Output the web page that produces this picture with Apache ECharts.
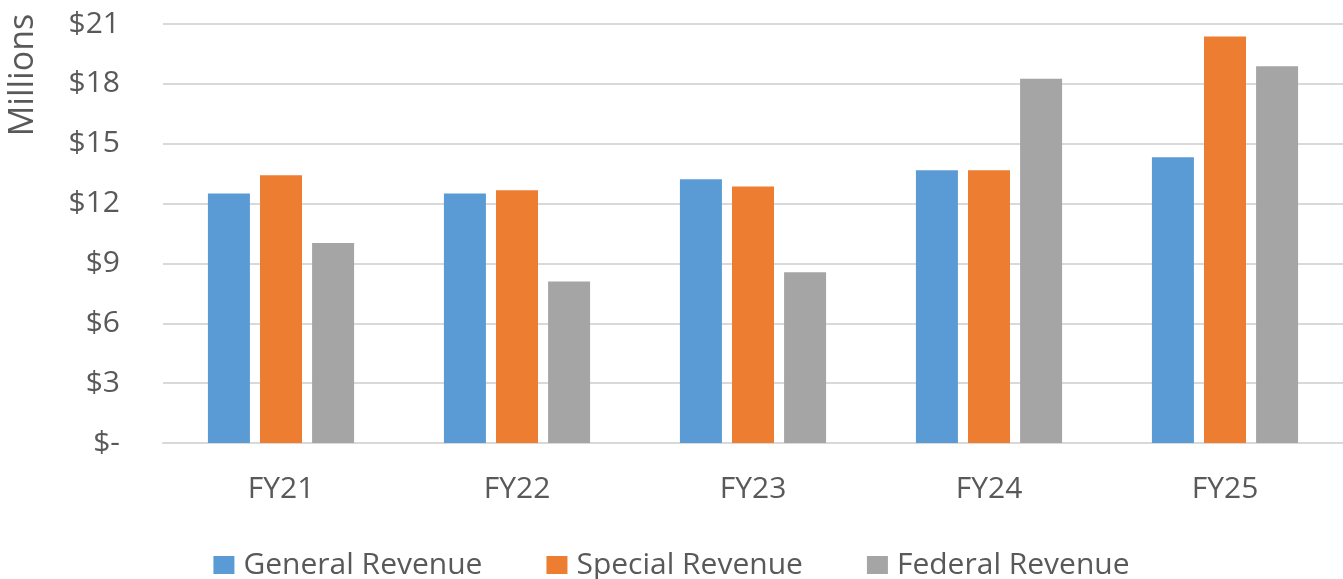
<!DOCTYPE html>
<html>
<head>
<meta charset="utf-8">
<script src="https://cdn.jsdelivr.net/npm/echarts@6/dist/echarts.min.js"></script>
<style>html,body{margin:0;padding:0;background:#fff}#c{width:1343px;height:579px}</style>
</head>
<body>
<div id="c"></div>
<script>
const categories = ['FY21', 'FY22', 'FY23', 'FY24', 'FY25'];
const generalRevenue = [12.5, 12.5, 13.22, 13.67, 14.32];
const specialRevenue = [13.42, 12.67, 12.85, 13.67, 20.37];
const federalRevenue = [10.03, 8.09, 8.56, 18.25, 18.88];
const yTicks = [0, 3, 6, 9, 12, 15, 18, 21];

const FONT = '"Open Sans", sans-serif';
const TXT = '#595959';
const chart = echarts.init(document.getElementById('c'));
chart.setOption({
  animation: false,
  grid: { left: 163, right: 0, top: 24, bottom: 136 },
  legend: {
    top: 545, left: 'center',
    itemWidth: 21, itemHeight: 18, itemGap: 64,
    icon: 'rect',
    textStyle: { fontFamily: FONT, fontSize: 30, color: TXT, padding: [0, 0, 0, 4] },
    data: ['General Revenue', 'Special Revenue', 'Federal Revenue']
  },
  xAxis: {
    type: 'category', data: categories,
    axisLine: { lineStyle: { color: '#d9d9d9', width: 2 } },
    axisTick: { show: false },
    axisLabel: { fontFamily: FONT, fontSize: 30, color: TXT, margin: 31 }
  },
  yAxis: {
    type: 'value', min: yTicks[0], max: yTicks[yTicks.length - 1], interval: 3,
    axisLine: { show: false }, axisTick: { show: false },
    splitLine: { lineStyle: { color: '#d9d9d9', width: 2 } },
    axisLabel: {
      fontFamily: FONT, fontSize: 30, color: TXT, margin: 43,
      formatter: v => v === 0 ? '$-' : '$' + v
    }
  },
  graphic: [{
    type: 'text', x: 23, y: 75, rotation: Math.PI / 2,
    style: { text: 'Millions', fontFamily: FONT, fontSize: 34, fill: TXT, align: 'center', verticalAlign: 'middle' }
  }],
  series: [
    { name: 'General Revenue', type: 'bar', data: generalRevenue, barWidth: 42, barGap: '24%',
      itemStyle: { color: '#5B9BD5' } },
    { name: 'Special Revenue', type: 'bar', data: specialRevenue, barWidth: 42, barGap: '24%',
      itemStyle: { color: '#ED7D31' } },
    { name: 'Federal Revenue', type: 'bar', data: federalRevenue, barWidth: 42, barGap: '24%',
      itemStyle: { color: '#A5A5A5' } }
  ]
});
</script>
</body>
</html>
